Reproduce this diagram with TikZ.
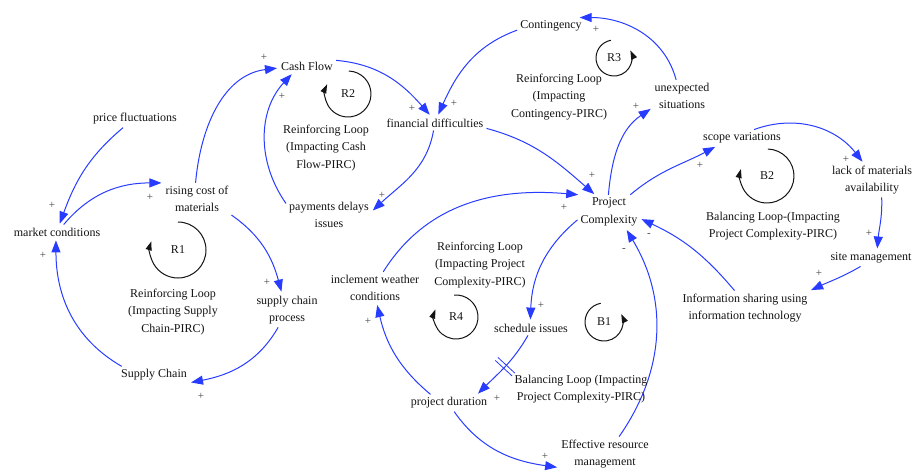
\documentclass[tikz,border=0pt]{standalone}
\usepackage{fontspec}
\setmainfont{Liberation Serif}
\usetikzlibrary{arrows.meta}
\definecolor{lnk}{RGB}{40,60,255}
\definecolor{txt}{RGB}{20,20,20}
\begin{document}
\begin{tikzpicture}[x=1pt,y=1pt,
  var/.style={font=\fontsize{12}{17.5}\selectfont, text=txt, align=center, inner sep=3pt},
  lnkarrow/.style={draw=lnk, line width=1pt, -{Triangle[length=12pt,width=9pt]}, shorten >=1pt},
  sgn/.style={font=\fontsize{11}{11}\selectfont, text=txt!80, inner sep=0pt},
  looparc/.style={draw=txt, line width=1pt, -{Triangle[length=9pt,width=6pt]}},
  looplbl/.style={font=\fontsize{12}{12}\selectfont, text=txt, inner sep=0pt},
  desc/.style={font=\fontsize{12}{17.5}\selectfont, text=txt, align=center, inner sep=0pt}]
\useasboundingbox[fill=white] (0,0) rectangle (913,-473);

% variables
\node[var] (pf) at (135,-119) {price fluctuations};
\node[var] (mc) at (57,-232) {market conditions};
\node[var] (rc) at (197,-199) {rising cost of\\materials};
\node[var] (cf) at (307,-66) {Cash Flow};
\node[var] (fd) at (435,-123) {financial difficulties};
\node[var] (pd) at (329,-215) {payments delays\\issues};
\node[var] (ct) at (551,-26) {Contingency};
\node[var] (us) at (682,-96) {unexpected\\situations};
\node[var] (pc) at (609,-212) {Project\\Complexity};
\node[var] (sv) at (742,-138) {scope variations};
\node[var] (lm) at (872,-180) {lack of materials\\availability};
\node[var] (sm) at (871,-258) {site management};
\node[var] (is) at (745,-308) {Information sharing using\\information technology};
\node[var] (er) at (605,-454) {Effective resource\\management};
\node[var] (du) at (449,-403) {project duration};
\node[var] (si) at (531,-328) {schedule issues};
\node[var] (iw) at (375,-288) {inclement weather\\conditions};
\node[var] (sc) at (154,-375) {Supply Chain};
\node[var] (sp) at (287,-310) {supply chain\\process};

% links
\draw[lnkarrow] (pf.-144) to[out=-140,in=70] (mc.72);
\draw[lnkarrow] (mc.48) to[out=50,in=180] (rc.155);
\draw[lnkarrow] (rc.95) to[out=85,in=187] (cf.184);
\draw[lnkarrow] (rc.-25) to[out=-35,in=105] (sp.107);
\draw[lnkarrow] (sp.-117) to[out=-120,in=11] (sc.-12);
\draw[lnkarrow] (sc.165) to[out=150,in=-90] (mc.-98);
\draw[lnkarrow] (pd.165) to[out=125,in=227] (cf.-153);
\draw[lnkarrow] (cf.11) to[out=-5,in=131] (fd.122);
\draw[lnkarrow] (fd.-101) to[out=-100,in=43] (pd.5);
\draw[lnkarrow] (ct.-173) to[out=200,in=66] (fd.69);
\draw[lnkarrow] (fd.-6) to[out=-15,in=139] (pc.129);
\draw[lnkarrow] (iw.63) to[out=58,in=175] (pc.150);
\draw[lnkarrow] (pc.92) to[out=85,in=-146] (us.-158);
\draw[lnkarrow] (us.110) to[out=105,in=0] (ct.17);
\draw[lnkarrow] (pc.39) to[out=40,in=208] (sv.-162);
\draw[lnkarrow] (sv.35) to[out=20,in=128] (lm.117);
\draw[lnkarrow] (lm.-61) to[out=-88,in=85] (sm.54);
\draw[lnkarrow] (sm.-141) to[out=-150,in=25] (is.15);
\draw[lnkarrow] (is.121) to[out=130,in=-25] (pc.-12);
\draw[lnkarrow] (er.51) to[out=55,in=-59] (pc.-45);
\draw[lnkarrow] (pc.-166) to[out=-140,in=88] (si.95);
\draw[lnkarrow] (si.-112) to[out=-120,in=45] node[pos=0.5, sloped, minimum width=3pt, minimum height=22pt, inner sep=0pt] (dly) {} (du.17);
\draw[draw=lnk, line width=0.8pt] (dly.north west) -- (dly.south west) (dly.north east) -- (dly.south east);
\draw[lnkarrow] (du.155) to[out=140,in=283] (iw.-83);
\draw[lnkarrow] (du.-59) to[out=-55,in=172] (er.-164);

% polarity signs
\node[sgn] (s1) at (52,-205) {+};
\node[sgn] (s2) at (150,-197) {+};
\node[sgn] (s3) at (264,-57) {+};
\node[sgn] (s4) at (267,-282) {+};
\node[sgn] (s5) at (201,-396) {+};
\node[sgn] (s6) at (43,-255) {+};
\node[sgn] (s7) at (282,-96) {+};
\node[sgn] (s8) at (412,-108) {+};
\node[sgn] (s9) at (382,-195) {+};
\node[sgn] (s10) at (454,-103) {+};
\node[sgn] (s11) at (592,-175) {+};
\node[sgn] (s12) at (564,-207) {+};
\node[sgn] (s13) at (636,-106) {+};
\node[sgn] (s14) at (596,-29) {+};
\node[sgn] (s15) at (700,-165) {+};
\node[sgn] (s16) at (846,-159) {+};
\node[sgn] (s17) at (869,-233) {+};
\node[sgn] (s18) at (819,-273) {+};
\node[sgn] (s19) at (649,-235) {-};
\node[sgn] (s20) at (624,-250) {-};
\node[sgn] (s21) at (541,-305) {+};
\node[sgn] (s22) at (497,-398) {+};
\node[sgn] (s23) at (368,-321) {+};
\node[sgn] (s24) at (545,-456) {+};

% loop markers
\node[looplbl] (l1) at (178,-250) {R1};
\draw[looparc] (l1) ++(90:28) arc[start angle=90, end angle=-198, radius=28];
\node[looplbl] (l2) at (348,-94) {R2};
\draw[looparc] (l2) ++(88:23) arc[start angle=88, end angle=-205, radius=23];
\node[looplbl] (l3) at (614,-58) {R3};
\draw[looparc] (l3) ++(100:18) arc[start angle=100, end angle=385, radius=18];
\node[looplbl] (b2) at (767,-176) {B2};
\draw[looparc] (b2) ++(88:27) arc[start angle=88, end angle=-195, radius=27];
\node[looplbl] (b1) at (604,-322) {B1};
\draw[looparc] (b1) ++(100:19) arc[start angle=100, end angle=385, radius=19];
\node[looplbl] (l4) at (456,-317) {R4};
\draw[looparc] (l4) ++(95:22) arc[start angle=95, end angle=-200, radius=22];

% loop descriptions
\node[desc] (d1) at (173,-312) {Reinforcing Loop\\(Impacting Supply\\Chain-PIRC)};
\node[desc] (d2) at (326,-148) {Reinforcing Loop\\(Impacting Cash\\Flow-PIRC)};
\node[desc] (d3) at (559,-97) {Reinforcing Loop\\(Impacting\\Contingency-PIRC)};
\node[desc] (d4) at (480,-265) {Reinforcing Loop\\(Impacting Project\\Complexity-PIRC)};
\node[desc] (d5) at (773,-226) {Balancing Loop-(Impacting\\Project Complexity-PIRC)};
\node[desc] (d6) at (581,-389) {Balancing Loop (Impacting\\Project Complexity-PIRC)};
\end{tikzpicture}
\end{document}
